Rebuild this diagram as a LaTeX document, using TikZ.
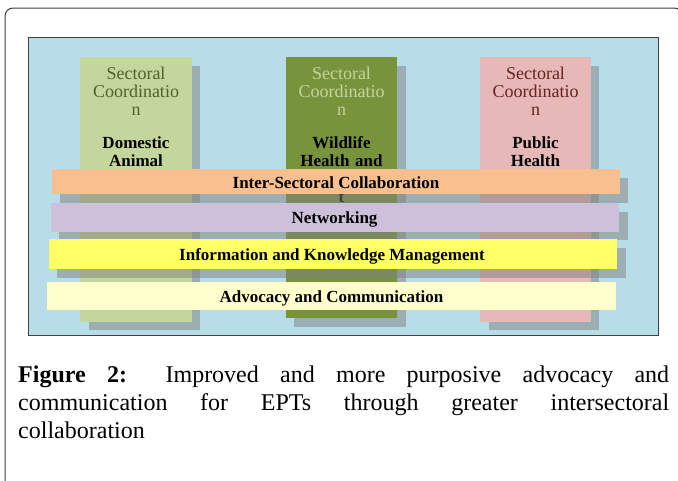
\documentclass[tikz,border=0pt]{standalone}
\usepackage{fontspec}
\setmainfont{Liberation Serif}
\definecolor{panelblue}{HTML}{B7DDE8}
\definecolor{colA}{HTML}{C3D69B}
\definecolor{colAtext}{HTML}{4F6228}
\definecolor{colB}{HTML}{77933C}
\definecolor{colBtext}{HTML}{C3D69B}
\definecolor{colC}{HTML}{E6B9B8}
\definecolor{colCtext}{HTML}{632423}
\definecolor{barpeach}{HTML}{FABF8F}
\definecolor{barlav}{HTML}{CCC0DA}
\definecolor{baryel}{HTML}{FFFF66}
\definecolor{barcream}{HTML}{FFFFCC}
\definecolor{framegray}{HTML}{404040}
\begin{document}
\begin{tikzpicture}[x=1pt,y=-1pt,
  shadowbox/.style={fill=gray,opacity=0.5},
  coltext/.style={text width=112pt,align=center,inner sep=0pt,anchor=base,
    font=\fontsize{18}{18.3}\selectfont},
  boldtext/.style={coltext,font=\bfseries\fontsize{17}{18.3}\selectfont},
  bartext/.style={inner sep=0pt,anchor=base,font=\bfseries\fontsize{17}{18}\selectfont},
  captext/.style={inner sep=0pt,anchor=base west,font=\fontsize{24}{26}\selectfont}]
\useasboundingbox (0,0) rectangle (678,480);
\fill[white] (0,0) rectangle (678,480);
% outer frame
\draw[framegray,line width=1pt,rounded corners=8pt] (5,484) -- (5,8) -- (682,8) -- (682,484);
% panel
\draw[fill=panelblue,draw=framegray,line width=0.8pt] (28,37) rectangle (658,335);
% column shadows
\fill[shadowbox] (89,66) rectangle (200,330);
\fill[shadowbox] (294,66) rectangle (406,327);
\fill[shadowbox] (489,66) rectangle (599,330);
% columns
\fill[colA] (80,57) rectangle (192,322);
\fill[colB] (286,57) rectangle (397,318);
\fill[colC] (480,57) rectangle (591,322);
% column texts
\node[coltext,text=colAtext] (a1) at (136,79) {Sectoral\\Coordinatio\\n};
\node[boldtext] (a2) at (136,148) {Domestic\\Animal};
\node[coltext,text=colBtext] (b1) at (341.5,79) {Sectoral\\Coordinatio\\n};
\node[boldtext] (b2) at (341.5,148) {Wildlife\\Health and\\\mbox{}\\t};
\node[coltext,text=colCtext] (c1) at (535.5,79) {Sectoral\\Coordinatio\\n};
\node[boldtext] (c2) at (535.5,148) {Public\\Health};
% bar 1
\fill[shadowbox] (60,177.5) rectangle (628,203);
\fill[barpeach] (52,169) rectangle (620,194);
\node[bartext] (t1) at (336,188) {Inter-Sectoral Collaboration};
% bar 2
\fill[shadowbox] (59,212) rectangle (628,240);
\fill[barlav] (51,203) rectangle (619,232);
\node[bartext] (t2) at (334.5,223) {Networking};
% bar 3
\fill[shadowbox] (57,248) rectangle (626,278);
\fill[baryel] (49,239) rectangle (617,269);
\node[bartext] (t3) at (332,260) {Information and Knowledge Management};
% bar 4
\fill[barcream] (47,282) rectangle (616,310);
\node[bartext] (t4) at (331.5,302) {Advocacy and Communication};
% caption
\node[captext] (cap1) at (18,382) {\makebox[651pt][s]{\textbf{Figure 2:} Improved and more purposive advocacy and}};
\node[captext] (cap2) at (18,410) {\makebox[651pt][s]{communication for EPTs through greater intersectoral}};
\node[captext] (cap3) at (18,438) {collaboration};
\end{tikzpicture}
\end{document}
